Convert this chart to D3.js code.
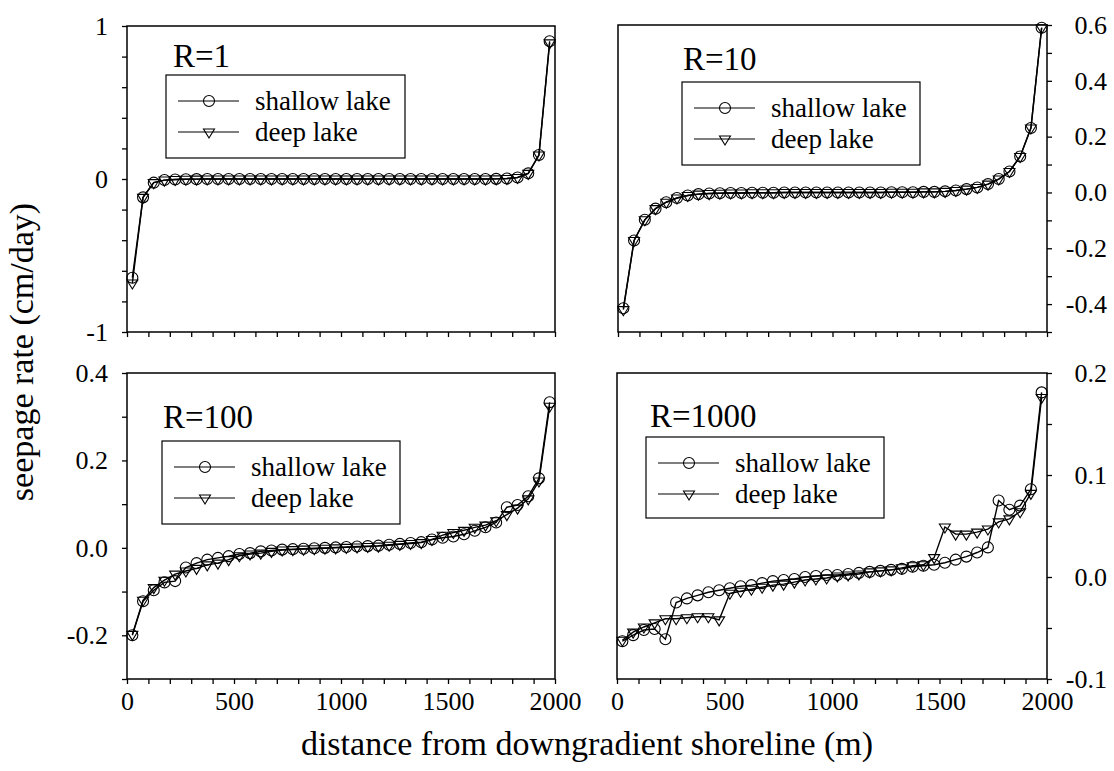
<!DOCTYPE html>
<html>
<head>
<meta charset="utf-8">
<script src="https://cdn.jsdelivr.net/npm/d3@7"></script>
<style>
  body { margin: 0; background: #fff; }
  svg text { font-family: "Liberation Serif", "Times New Roman", serif; fill: #000; }
</style>
</head>
<body>
<div id="chart"></div>
<script>
// distance from downgradient shoreline (m), cell centres
const distance = [25, 75, 125, 175, 225, 275, 325, 375, 425, 475,
  525, 575, 625, 675, 725, 775, 825, 875, 925, 975,
  1025, 1075, 1125, 1175, 1225, 1275, 1325, 1375, 1425, 1475,
  1525, 1575, 1625, 1675, 1725, 1775, 1825, 1875, 1925, 1975];

// seepage rate (cm/day)
const r1Shallow = [-0.645, -0.12, -0.024, -0.007, -0.003, -0.002, -0.001, 0, 0, 0,
  0, 0, 0, 0, 0, 0, 0, 0, 0, 0,
  0, 0, 0, 0, 0, 0, 0, 0, 0, 0,
  0, 0, 0, 0, 0.001, 0.003, 0.01, 0.037, 0.157, 0.9];
const r1Deep = [-0.68, -0.12, -0.024, -0.007, -0.003, -0.002, -0.001, 0, 0, 0,
  0, 0, 0, 0, 0, 0, 0, 0, 0, 0,
  0, 0, 0, 0, 0, 0, 0, 0, 0, 0,
  0, 0, 0, 0, 0.001, 0.003, 0.01, 0.037, 0.157, 0.89];

const r10Shallow = [-0.415, -0.172, -0.098, -0.058, -0.035, -0.02, -0.011, -0.006, -0.004, -0.003,
  -0.002, -0.002, -0.001, -0.001, -0.001, 0, 0, 0, 0, 0,
  0, 0, 0, 0, 0, 0.001, 0.001, 0.001, 0.002, 0.002,
  0.004, 0.007, 0.012, 0.018, 0.03, 0.048, 0.075, 0.129, 0.231, 0.59];
const r10Deep = [-0.42, -0.172, -0.098, -0.058, -0.035, -0.02, -0.011, -0.006, -0.004, -0.003,
  -0.002, -0.002, -0.001, -0.001, -0.001, 0, 0, 0, 0, 0,
  0, 0, 0, 0, 0, 0.001, 0.001, 0.001, 0.002, 0.002,
  0.004, 0.007, 0.012, 0.018, 0.03, 0.048, 0.075, 0.129, 0.231, 0.59];

const r100Shallow = [-0.2, -0.122, -0.097, -0.079, -0.076, -0.045, -0.035, -0.027, -0.023, -0.019,
  -0.014, -0.012, -0.008, -0.006, -0.004, -0.003, -0.002, -0.001, 0, 0.001,
  0.002, 0.003, 0.004, 0.005, 0.007, 0.009, 0.011, 0.013, 0.019, 0.023,
  0.026, 0.031, 0.039, 0.047, 0.058, 0.093, 0.098, 0.118, 0.159, 0.333];
const r100Deep = [-0.198, -0.12, -0.091, -0.074, -0.06, -0.053, -0.047, -0.039, -0.035, -0.027,
  -0.018, -0.014, -0.012, -0.008, -0.005, -0.004, -0.003, -0.002, -0.001, 0,
  0.001, 0.002, 0.003, 0.004, 0.006, 0.008, 0.01, 0.012, 0.019, 0.029,
  0.035, 0.04, 0.047, 0.052, 0.062, 0.076, 0.091, 0.112, 0.153, 0.324];

const r1000Shallow = [-0.063, -0.057, -0.052, -0.051, -0.061, -0.025, -0.021, -0.018, -0.015, -0.013,
  -0.011, -0.009, -0.008, -0.006, -0.004, -0.003, -0.002, 0, 0.001, 0.002,
  0.002, 0.003, 0.004, 0.005, 0.006, 0.007, 0.008, 0.01, 0.011, 0.012,
  0.014, 0.017, 0.02, 0.024, 0.029, 0.075, 0.066, 0.07, 0.086, 0.181];
const r1000Deep = [-0.062, -0.054, -0.049, -0.045, -0.041, -0.041, -0.04, -0.039, -0.039, -0.042,
  -0.016, -0.014, -0.012, -0.01, -0.008, -0.007, -0.005, -0.003, -0.002, -0.001,
  0.001, 0.002, 0.003, 0.005, 0.006, 0.007, 0.009, 0.011, 0.012, 0.019,
  0.049, 0.042, 0.042, 0.044, 0.047, 0.054, 0.057, 0.064, 0.082, 0.176];

// axis ticks
const xTicks = [0, 100, 200, 300, 400, 500, 600, 700, 800, 900, 1000,
  1100, 1200, 1300, 1400, 1500, 1600, 1700, 1800, 1900, 2000];
const xLabels = [0, 500, 1000, 1500, 2000];
const r1Ticks = [-1, -0.8, -0.6, -0.4, -0.2, 0, 0.2, 0.4, 0.6, 0.8, 1];
const r1Labels = [-1, 0, 1];
const r10Ticks = [-0.5, -0.4, -0.3, -0.2, -0.1, 0, 0.1, 0.2, 0.3, 0.4, 0.5, 0.6];
const r10Labels = [-0.4, -0.2, 0, 0.2, 0.4, 0.6];
const r100Ticks = [-0.3, -0.2, -0.1, 0, 0.1, 0.2, 0.3, 0.4];
const r100Labels = [-0.2, 0, 0.2, 0.4];
const r1000Ticks = [-0.1, -0.05, 0, 0.05, 0.1, 0.15, 0.2];
const r1000Labels = [-0.1, 0, 0.1, 0.2];

const width = 1114, height = 771;
const font = '"Liberation Serif", "Times New Roman", serif';

const panels = [
  {title: "R=1", shallow: r1Shallow, deep: r1Deep, domain: [-1, 1], ticks: r1Ticks, labels: r1Labels,
   fmt: d => String(d), side: "left", xLab: false,
   left: 127, right: 555, top: 26, bottom: 332, tx: 173, ty: 67, box: [166, 75, 239, 83]},
  {title: "R=10", shallow: r10Shallow, deep: r10Deep, domain: [-0.5, 0.6], ticks: r10Ticks, labels: r10Labels,
   fmt: d => d.toFixed(1), side: "right", xLab: false,
   left: 618, right: 1047, top: 25, bottom: 332, tx: 683, ty: 70, box: [682, 82, 238, 83]},
  {title: "R=100", shallow: r100Shallow, deep: r100Deep, domain: [-0.3, 0.4], ticks: r100Ticks, labels: r100Labels,
   fmt: d => d.toFixed(1), side: "left", xLab: true,
   left: 127, right: 555, top: 373, bottom: 679, tx: 163, ty: 428, box: [162, 441, 238, 83]},
  {title: "R=1000", shallow: r1000Shallow, deep: r1000Deep, domain: [-0.1, 0.2], ticks: r1000Ticks, labels: r1000Labels,
   fmt: d => d.toFixed(1), side: "right", xLab: true,
   left: 617, right: 1047, top: 373, bottom: 679, tx: 650, ty: 427, box: [646, 437, 238, 81]}
];

const svg = d3.select("#chart").append("svg")
  .attr("width", width)
  .attr("height", height)
  .attr("viewBox", [0, 0, width, height])
  .style("font-family", font);

const triangle = "M-5.5,-3L5.5,-3L0,6Z";
const isLabel = (list, d) => list.some(v => Math.abs(v - d) < 1e-9);

function markers(g, pts, kind) {
  if (kind === "circle") {
    g.selectAll(null).data(pts).join("circle")
      .attr("cx", d => d[0]).attr("cy", d => d[1]).attr("r", 5.5)
      .attr("fill", "none").attr("stroke", "#000").attr("stroke-width", 1.1);
  } else {
    g.selectAll(null).data(pts).join("path")
      .attr("transform", d => `translate(${d[0]},${d[1]})`)
      .attr("d", triangle)
      .attr("fill", "none").attr("stroke", "#000").attr("stroke-width", 1.1);
  }
}

function styleAxis(a) {
  a.attr("font-family", null);
  a.select(".domain").remove();
  a.selectAll("line").attr("stroke-width", 1.3);
  a.selectAll("text").attr("font-size", 26).style("font-family", font);
}

panels.forEach(p => {
  const x = d3.scaleLinear([0, 2000], [p.left, p.right]);
  const y = d3.scaleLinear(p.domain, [p.bottom, p.top]);
  const g = svg.append("g");

  // x axis
  g.append("g")
    .attr("transform", `translate(0,${p.bottom})`)
    .call(d3.axisBottom(x).tickValues(xTicks).tickSize(5).tickPadding(8)
      .tickFormat(d => p.xLab && isLabel(xLabels, d) ? String(d) : ""))
    .call(styleAxis);

  // y axis
  if (p.side === "left") {
    g.append("g")
      .attr("transform", `translate(${p.left},0)`)
      .call(d3.axisLeft(y).tickValues(p.ticks).tickSize(5).tickPadding(14)
        .tickFormat(d => isLabel(p.labels, d) ? p.fmt(d) : ""))
      .call(styleAxis);
  } else {
    g.append("g")
      .attr("transform", `translate(${p.right},0)`)
      .call(d3.axisRight(y).tickValues(p.ticks).tickSize(5)
        .tickFormat(d => isLabel(p.labels, d) ? p.fmt(d) : ""))
      .call(styleAxis)
      .call(a => a.selectAll("text").attr("text-anchor", "end").attr("x", 1107 - p.right));
  }

  // frame
  g.append("rect")
    .attr("x", p.left).attr("y", p.top)
    .attr("width", p.right - p.left).attr("height", p.bottom - p.top)
    .attr("fill", "none").attr("stroke", "#000").attr("stroke-width", 1.5);

  const line = d3.line().x((d, i) => x(distance[i])).y(d => y(d));
  [p.shallow, p.deep].forEach(series => {
    g.append("path").datum(series)
      .attr("d", line)
      .attr("fill", "none").attr("stroke", "#000").attr("stroke-width", 1.4);
  });
  markers(g, p.shallow.map((v, i) => [x(distance[i]), y(v)]), "circle");
  markers(g, p.deep.map((v, i) => [x(distance[i]), y(v)]), "triangle");

  // panel title
  g.append("text").attr("x", p.tx).attr("y", p.ty)
    .attr("font-size", 33).text(p.title);

  // legend
  const [bx, by, bw, bh] = p.box;
  const lg = g.append("g");
  lg.append("rect").attr("x", bx).attr("y", by).attr("width", bw).attr("height", bh)
    .attr("fill", "#fff").attr("stroke", "#000").attr("stroke-width", 1.2);
  const rows = [
    {name: "shallow lake", kind: "circle", dy: 26},
    {name: "deep lake", kind: "triangle", dy: 57}
  ];
  rows.forEach(r => {
    const ry = by + r.dy;
    lg.append("line").attr("x1", bx + 12).attr("x2", bx + 73).attr("y1", ry).attr("y2", ry)
      .attr("stroke", "#000").attr("stroke-width", 1.2);
    markers(lg, [[bx + 43, ry]], r.kind);
    lg.append("text").attr("x", bx + 89).attr("y", ry + 9)
      .attr("font-size", 27).text(r.name);
  });
});

// axis titles
svg.append("text")
  .attr("x", 587).attr("y", 755)
  .attr("text-anchor", "middle")
  .attr("font-size", 34)
  .text("distance from downgradient shoreline (m)");

svg.append("text")
  .attr("transform", "translate(33,352) rotate(-90)")
  .attr("text-anchor", "middle")
  .attr("font-size", 34)
  .text("seepage rate (cm/day)");
</script>
</body>
</html>
